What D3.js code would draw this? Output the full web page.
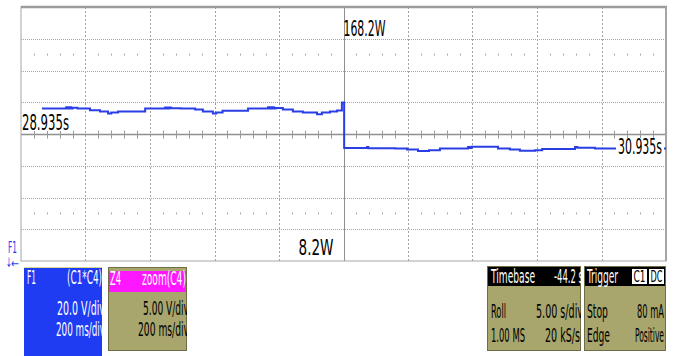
<!DOCTYPE html>
<html>
<head>
<meta charset="utf-8">
<script src="https://cdn.jsdelivr.net/npm/d3@7"></script>
<style>
body{margin:0;background:#fff}
svg{display:block}
text{font-family:"Liberation Sans Narrow","DejaVu Sans Condensed","Liberation Sans",sans-serif}
</style>
</head>
<body>
<svg id="scope" width="675" height="356"></svg>
<script>
// screen: 10 div x 200 ms, 8 div x 20 W
let timeRange = [28.935, 30.935]
let powerRange = [8.2, 168.2]
let timeDivs = 10
let powerDivs = 8

// F1 = C1*C4 trace
let traceTime = [29.000,29.075,29.080,29.085,29.090,29.095,29.110,29.149,29.180,29.205,29.215,29.236,29.320,29.382,29.388,29.394,29.400,29.430,29.475,29.499,29.530,29.540,29.560,29.639,29.701,29.707,29.713,29.719,29.725,29.747,29.778,29.809,29.853,29.868,29.893,29.915,29.930,29.937,30.008,30.012,30.095,30.132,30.166,30.200,30.234,30.321,30.326,30.332,30.414,30.451,30.482,30.529,30.551,30.653,30.660,30.715,30.935]
let tracePower = [104.2,105.0,104.2,105.0,104.2,104.8,104.2,103.2,102.3,101.1,101.7,102.3,104.2,104.9,104.2,104.9,104.4,104.2,103.6,102.3,101.1,101.7,102.9,104.2,105.0,104.2,105.0,104.2,104.6,103.6,102.3,101.7,100.6,101.7,102.3,103.0,108.0,79.4,80.0,79.3,79.1,78.5,77.5,77.9,79.1,80.0,79.4,80.2,79.1,78.5,77.6,77.9,78.8,80.0,79.5,79.1,79.1]

let f1Panel = ['F1','(C1*C4)','20.0 V/div','200 ms/div']
let z4Panel = ['Z4','zoom(C4)','5.00 V/div','200 ms/div']
let timebasePanel = ['Timebase','-44.2 s','Roll','5.00 s/div','1.00 MS','20 kS/s']
let triggerPanel = ['Trigger','C1','DC','Stop','80 mA','Edge','Positive']

let svg = d3.select('#scope')

let x = d3.scaleLinear().domain(timeRange).range([21, 666])
let y = d3.scaleLinear().domain(powerRange).range([261, 7])

let olive = '#a8a66c'
let oliveDark = '#6e6d45'

// narrow scope font: squeeze a normal font to the width seen on screen
function txt(g, s, px, py, w, opts){
	opts = opts || {}
	let t = g.append('text')
		.attr('font-size', opts.size || 19)
		.attr('fill', opts.fill || '#000')
		.text(s)
	let natural = t.node().getComputedTextLength()
	let sx = w ? w/natural : 1
	let width = natural*sx
	let left = px
	if(opts.anchor=='end'){ left = px-width }
	if(opts.anchor=='middle'){ left = px-width/2 }
	t.attr('transform','translate('+left+','+py+') scale('+sx+',1)')
	return t
}

function drawGrid(){
	let g = svg.append('g')
	let tStep = (timeRange[1]-timeRange[0])/timeDivs
	let pStep = (powerRange[1]-powerRange[0])/powerDivs

	for(let i=1;i<timeDivs;i++){
		let px = Math.round(x(timeRange[0]+i*tStep))+0.5
		g.append('line').attr('x1',px).attr('x2',px).attr('y1',y(powerRange[1])).attr('y2',y(powerRange[0]))
			.attr('stroke', i==timeDivs/2 ? '#8f8f8f' : '#a0a0a0')
			.attr('stroke-dasharray', i==timeDivs/2 ? null : '2,2')
	}
	for(let j=1;j<powerDivs;j++){
		let py = Math.round(y(powerRange[0]+j*pStep))+0.5
		g.append('line').attr('x1',x(timeRange[0])).attr('x2',x(timeRange[1])).attr('y1',py).attr('y2',py)
			.attr('stroke', j==powerDivs/2 ? '#8f8f8f' : '#a5a5a5')
			.attr('stroke-width', j==powerDivs/2 ? 1.5 : 1)
			.attr('stroke-dasharray', j==powerDivs/2 ? null : '1,1')
	}

	// minor ticks on the centre line and the two dotted rows
	let centre = Math.round(y((powerRange[0]+powerRange[1])/2))+0.5
	let rows = [powerRange[0]+6.5*pStep, powerRange[0]+1.5*pStep]
	for(let i=0;i<timeDivs;i++){
		for(let k=1;k<5;k++){
			let px = Math.round(x(timeRange[0]+(i+k/5)*tStep))+0.5
			g.append('line').attr('x1',px).attr('x2',px).attr('y1',centre-4).attr('y2',centre+4)
				.attr('stroke','#9a9a9a')
			rows.forEach(function(r){
				g.append('line').attr('x1',px).attr('x2',px).attr('y1',y(r)-1).attr('y2',y(r)+1)
					.attr('stroke','#aaaaaa')
			})
		}
	}

	g.append('rect').attr('x',x(timeRange[0])).attr('y',y(powerRange[1]))
		.attr('width',x(timeRange[1])-x(timeRange[0])).attr('height',y(powerRange[0])-y(powerRange[1]))
		.attr('fill','none').attr('stroke','#a5a5a5')
	g.append('line').attr('x1',x(timeRange[0])).attr('x2',x(timeRange[1])+1)
		.attr('y1',y(powerRange[1])).attr('y2',y(powerRange[1]))
		.attr('stroke','#9c9c9c').attr('stroke-width',2.5)
	g.append('line').attr('x1',x(timeRange[1])).attr('x2',x(timeRange[1]))
		.attr('y1',y(powerRange[1])).attr('y2',y(powerRange[0]))
		.attr('stroke','#a5a5a5').attr('stroke-width',2)
}

function drawTrace(){
	let pts = traceTime.map(function(t,i){ return [t, tracePower[i]] })
	let line = d3.line()
		.x(function(d){ return x(d[0]) })
		.y(function(d){ return y(d[1]) })
		.curve(d3.curveStepAfter)
	svg.append('path').datum(pts)
		.attr('d', line)
		.attr('fill','none')
		.attr('stroke','#2a3ee6')
		.attr('stroke-width',2)
}

function f3(v){ return d3.format('.3f')(v) }

function drawLabels(){
	let g = svg.append('g')
	let f = d3.format('.1f')
	let mid = x((timeRange[0]+timeRange[1])/2)

	txt(g, f(powerRange[1])+'W', mid, 36, 42, {size:22})
	txt(g, f(powerRange[0])+'W', mid-45, 255, 35, {size:22})

	g.append('rect').attr('x',x(timeRange[0])+1).attr('y',113).attr('width',48).attr('height',18).attr('fill','#fff')
	txt(g, f3(timeRange[0])+'s', x(timeRange[0])+1, 130, 47, {size:21})

	g.append('rect').attr('x',x(timeRange[1])-50).attr('y',138).attr('width',48).attr('height',18).attr('fill','#fff')
	txt(g, f3(timeRange[1])+'s', x(timeRange[1])-48, 154, 44, {size:21})

	// F1 channel marker
	txt(g, 'F1', 8, 253, 9, {size:15, fill:'#2a3ee6'})
	txt(g, '↓', 6, 267, 6, {size:13, fill:'#2a3ee6'})
	txt(g, '←', 11, 268, 8, {size:13, fill:'#2a3ee6'})
}

function clipped(id, px, py, w, h){
	svg.append('clipPath').attr('id',id).append('rect').attr('x',px).attr('y',py).attr('width',w).attr('height',h)
	return svg.append('g').attr('clip-path','url(#'+id+')')
}

function drawPanels(){
	// F1
	let g1 = clipped('cf1', 24, 267, 78, 89)
	g1.append('rect').attr('x',24).attr('y',267).attr('width',78).attr('height',89).attr('fill','#1f3cf2')
	g1.append('line').attr('x1',24).attr('x2',102).attr('y1',267.5).attr('y2',267.5).attr('stroke','#d9d690')
	txt(g1, f1Panel[0], 27, 284, 9, {fill:'#fff'})
	txt(g1, f1Panel[1], 102, 284, 35, {fill:'#fff', anchor:'end'})
	txt(g1, f1Panel[2], 105, 315, 48, {fill:'#fff', anchor:'end'})
	txt(g1, f1Panel[3], 105, 336, 49, {fill:'#fff', anchor:'end'})

	// Z4
	let g2 = clipped('cz4', 108, 267, 79, 84)
	g2.append('rect').attr('x',108.5).attr('y',267.5).attr('width',78).attr('height',83).attr('fill',olive).attr('stroke',oliveDark)
	g2.append('rect').attr('x',109).attr('y',271).attr('width',77).attr('height',21).attr('fill','#ff18ff')
	txt(g2, z4Panel[0], 110, 285, 11, {fill:'#fff'})
	txt(g2, z4Panel[1], 186, 285, 44, {fill:'#fff', anchor:'end'})
	txt(g2, z4Panel[2], 189, 315, 46, {anchor:'end'})
	txt(g2, z4Panel[3], 189, 336, 51, {anchor:'end'})

	// Timebase
	let g3 = clipped('ctb', 487, 266, 94, 85)
	g3.append('rect').attr('x',487.5).attr('y',266.5).attr('width',93).attr('height',84).attr('fill',olive).attr('stroke',oliveDark)
	g3.append('rect').attr('x',488).attr('y',267).attr('width',92).attr('height',19).attr('fill','#000')
	txt(g3, timebasePanel[0], 491, 283, 44, {fill:'#fff'})
	txt(g3, timebasePanel[1], 583, 283, 29, {fill:'#fff', anchor:'end'})
	txt(g3, timebasePanel[2], 491, 318, 15)
	txt(g3, timebasePanel[3], 583, 318, 47, {anchor:'end'})
	txt(g3, timebasePanel[4], 491, 342, 34)
	txt(g3, timebasePanel[5], 580, 342, 35, {anchor:'end'})

	// Trigger
	let g4 = clipped('ctr', 584, 266, 82, 85)
	g4.append('rect').attr('x',584.5).attr('y',266.5).attr('width',81).attr('height',84).attr('fill',olive).attr('stroke',oliveDark)
	g4.append('rect').attr('x',585).attr('y',267).attr('width',80).attr('height',19).attr('fill','#000')
	txt(g4, triggerPanel[0], 587, 283, 31, {fill:'#fff'})
	;[[631,triggerPanel[1]],[648,triggerPanel[2]]].forEach(function(b){
		g4.append('rect').attr('x',b[0]+0.5).attr('y',268.5).attr('width',16).attr('height',16).attr('fill','#fff').attr('stroke','#000')
		txt(g4, b[1], b[0]+8.5, 282, 12, {anchor:'middle', size:15})
	})
	txt(g4, triggerPanel[3], 587, 318, 21)
	txt(g4, triggerPanel[4], 664, 318, 27, {anchor:'end'})
	txt(g4, triggerPanel[5], 587, 342, 23)
	txt(g4, triggerPanel[6], 664, 342, 29, {anchor:'end'})
}

drawGrid()
drawTrace()
drawLabels()
drawPanels()
</script>
</body>
</html>
